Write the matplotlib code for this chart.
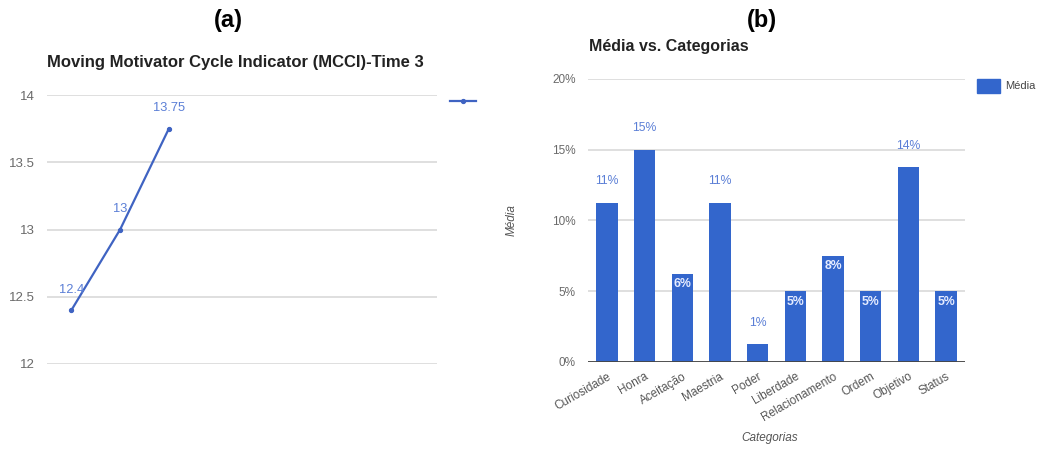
import matplotlib
matplotlib.use("Agg")
import matplotlib.pyplot as plt
from matplotlib import font_manager

# ---- data ----
mcci_values = [12.4, 13, 13.75]            # MCCI measured at times 1..3
mcci_slots = 8                              # category slots on the x axis
mcci_labels = ["12.4", "13", "13.75"]
mcci_yticks = [12, 12.5, 13, 13.5, 14]

categorias = ["Curiosidade", "Honra", "Aceitação", "Maestria", "Poder",
              "Liberdade", "Relacionamento", "Ordem", "Objetivo", "Status"]
media = [11.25, 15, 6.25, 11.25, 1.25, 5, 7.5, 5, 13.75, 5]   # percent
media_yticks = [0, 5, 10, 15, 20]

# ---- style ----
names = {f.name for f in font_manager.fontManager.ttflist}
FONT = "Liberation Sans" if "Liberation Sans" in names else "DejaVu Sans"
plt.rcParams["font.family"] = [FONT, "DejaVu Sans"]

BLUE = "#3366cc"
LINE_BLUE = "#3f63c2"
LABEL_BLUE = "#5b7fd6"
GRID = "#d9d9d9"
TICK = "#6a6a6a"
TITLE = "#222222"

W, H = 1039, 450
fig = plt.figure(figsize=(W / 100, H / 100), dpi=100)


def frac(x0, y_top, x1, y_bot):
    return [x0 / W, 1 - y_bot / H, (x1 - x0) / W, (y_bot - y_top) / H]


# ---------- (a) line chart ----------
ax1 = fig.add_axes(frac(47, 95, 437, 364))
xs = list(range(len(mcci_values)))
ax1.plot(xs, mcci_values, color=LINE_BLUE, lw=1.6, marker="o", ms=2.8,
         zorder=3, solid_capstyle="round")
for x, v, lab in zip(xs, mcci_values, mcci_labels):
    ax1.annotate(lab, (x, v), xytext=(0, 14.5), textcoords="offset points",
                 ha="center", va="center", color=LABEL_BLUE, fontsize=9.3)
ax1.set_xlim(-0.5, mcci_slots - 0.5)
ax1.set_ylim(12, 14)
ax1.set_yticks(mcci_yticks)
ax1.set_yticklabels([f"{t:g}" for t in mcci_yticks])
ax1.set_xticks([])
ax1.yaxis.grid(True, color=GRID, lw=1.2)
ax1.set_axisbelow(True)
for s in ax1.spines.values():
    s.set_visible(False)
ax1.tick_params(axis="y", length=0, pad=9, labelsize=9.5, labelcolor=TICK)

# legend sample for the line series
fig.add_artist(plt.Line2D([450 / W, 476 / W], [1 - 101 / H] * 2,
                          color=LINE_BLUE, lw=1.6))
fig.add_artist(plt.Line2D([463 / W], [1 - 101 / H], color=LINE_BLUE,
                          marker="o", ms=2.8, lw=0))

fig.text(47 / W, 1 - 63 / H, "Moving Motivator Cycle Indicator (MCCI)-Time 3",
         ha="left", va="center", fontsize=12, fontweight="bold", color=TITLE)
fig.text(228 / W, 1 - 20 / H, "(a)", ha="center", va="center",
         fontsize=17, fontweight="bold", color="black")

# ---------- (b) bar chart ----------
ax2 = fig.add_axes(frac(588, 79, 965, 362))
pos = list(range(len(categorias)))
bars = ax2.bar(pos, media, width=0.57, color=BLUE, zorder=3)
for x, v in zip(pos, media):
    txt = f"{v:.0f}%"
    if v > 10 or v < 2:
        ax2.annotate(txt, (x, v), xytext=(0, 15.5), textcoords="offset points",
                     ha="center", va="center", color=LABEL_BLUE, fontsize=8.8)
    else:
        ax2.annotate(txt, (x, v), xytext=(0, -7.5), textcoords="offset points",
                     ha="center", va="center", color="#e6ecff", fontsize=8.8,
                     fontweight="bold")
ax2.set_xlim(-0.5, len(categorias) - 0.5)
ax2.set_ylim(0, 20)
ax2.set_yticks(media_yticks)
ax2.set_yticklabels([f"{t}%" for t in media_yticks])
ax2.yaxis.grid(True, color=GRID, lw=1.2)
ax2.set_axisbelow(True)
for s in ax2.spines.values():
    s.set_visible(False)
ax2.axhline(0, color="#444444", lw=1.3, zorder=4)
ax2.tick_params(axis="y", length=0, pad=9, labelsize=8.5, labelcolor=TICK)
ax2.set_xticks(pos)
ax2.set_xticklabels(categorias, rotation=30, ha="right", va="top",
                    rotation_mode="anchor")
ax2.tick_params(axis="x", length=0, pad=6, labelsize=8.5, labelcolor="#555555")

fig.text(770 / W, 1 - 438 / H, "Categorias", ha="center", va="center",
         fontsize=8.5, style="italic", color="#555555")
fig.text(512 / W, 1 - 220 / H, "Média", ha="center", va="center",
         rotation=90, fontsize=8.5, style="italic", color="#555555")

# legend for the bar series
fig.add_artist(plt.Rectangle((977 / W, 1 - 93 / H), 23 / W, 14 / H,
                             color=BLUE, transform=fig.transFigure))
fig.text(1005 / W, 1 - 86 / H, "Média", ha="left", va="center",
         fontsize=8, color="#444444")

fig.text(589 / W, 1 - 46 / H, "Média vs. Categorias", ha="left", va="center",
         fontsize=11.5, fontweight="bold", color=TITLE)
fig.text(762 / W, 1 - 20 / H, "(b)", ha="center", va="center",
         fontsize=17, fontweight="bold", color="black")

fig.savefig("out.png", dpi=100, facecolor="white")
